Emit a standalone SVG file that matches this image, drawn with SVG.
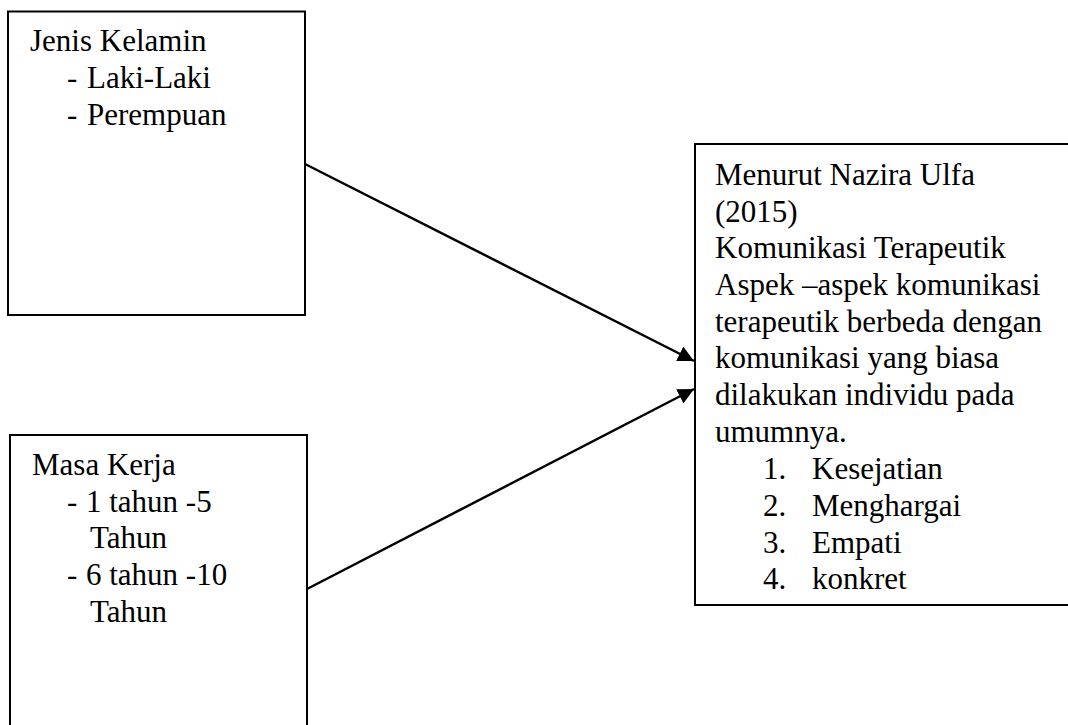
<svg xmlns="http://www.w3.org/2000/svg" width="1068" height="725" viewBox="0 0 1068 725">
<style>
.box{fill:#fff;stroke:#000;stroke-width:2}
.t{font-family:"Liberation Serif","Times New Roman",serif;font-size:31px;fill:#000}
.c{stroke:#000;stroke-width:2.5;fill:none}
</style>
<defs>
<marker id="ah" markerUnits="userSpaceOnUse" markerWidth="18" markerHeight="16" refX="16" refY="8" orient="auto">
<path d="M0,0 L16,8 L0,16 z" fill="#000"/>
</marker>
</defs>
<rect width="1068" height="725" fill="#fff"/>
<g id="connectors">
<line class="c" x1="305" y1="164" x2="694" y2="361" marker-end="url(#ah)"/>
<line class="c" x1="307" y1="589" x2="694" y2="389" marker-end="url(#ah)"/>
</g>
<g id="jenis-kelamin">
<rect class="box" x="8" y="11.5" width="297" height="303.5"/>
<text class="t" x="30" y="51">Jenis Kelamin</text>
<text class="t" x="67" y="88">-</text><text class="t" x="87" y="88">Laki-Laki</text>
<text class="t" x="67" y="125">-</text><text class="t" x="87" y="125">Perempuan</text>
</g>
<g id="masa-kerja">
<rect class="box" x="10" y="435" width="297" height="310"/>
<text class="t" x="32" y="475">Masa Kerja</text>
<text class="t" x="67" y="512">-</text><text class="t" x="86" y="512">1 tahun -5</text>
<text class="t" x="90" y="548">Tahun</text>
<text class="t" x="67" y="585">-</text><text class="t" x="86" y="585">6 tahun -10</text>
<text class="t" x="90" y="622">Tahun</text>
</g>
<g id="komunikasi-terapeutik">
<rect class="box" x="695" y="144" width="400" height="461"/>
<text class="t" x="715" y="185">Menurut Nazira Ulfa</text>
<text class="t" x="715" y="222">(2015)</text>
<text class="t" x="715" y="258">Komunikasi Terapeutik</text>
<text class="t" x="715" y="295">Aspek –aspek komunikasi</text>
<text class="t" x="715" y="332">terapeutik berbeda dengan</text>
<text class="t" x="715" y="368">komunikasi yang biasa</text>
<text class="t" x="715" y="405">dilakukan individu pada</text>
<text class="t" x="715" y="442">umumnya.</text>
<text class="t" x="763" y="479">1.</text><text class="t" x="812" y="479">Kesejatian</text>
<text class="t" x="763" y="516">2.</text><text class="t" x="812" y="516">Menghargai</text>
<text class="t" x="763" y="553">3.</text><text class="t" x="812" y="553">Empati</text>
<text class="t" x="763" y="589">4.</text><text class="t" x="812" y="589">konkret</text>
</g>
</svg>
